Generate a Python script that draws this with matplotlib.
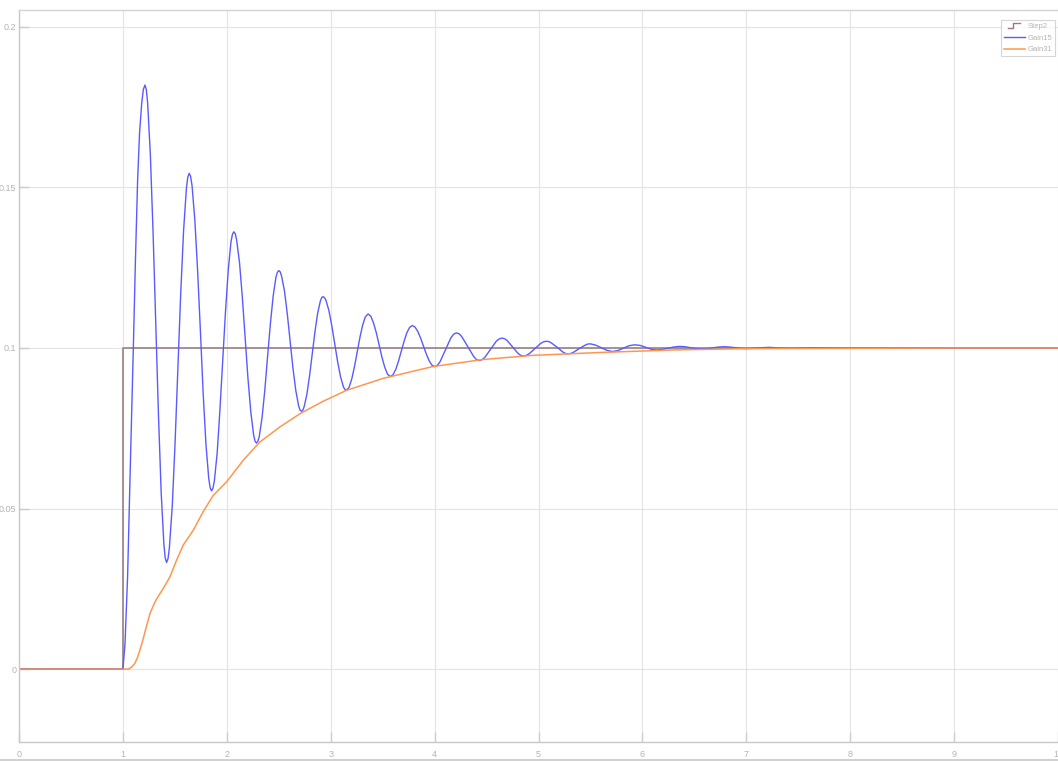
"""
Step response scope: Step2 input vs. the Gain15 and Gain31 loop outputs.
"""

import matplotlib

matplotlib.use("Agg")
import matplotlib.pyplot as plt
from matplotlib.legend_handler import HandlerBase
from matplotlib.lines import Line2D

# --- Step2 (reference input) ---
step_t = [0.0, 1.0, 10.0]
step_v = [0.0, 0.1, 0.1]

# --- Gain15 (underdamped, blue) ---
gain15_t = [
    0.0, 1.0, 1.02, 1.045, 1.07, 1.1, 1.12, 1.141, 1.16, 1.18, 1.196, 1.212,
    1.225, 1.238, 1.264, 1.290, 1.316, 1.342, 1.368, 1.394, 1.407, 1.420,
    1.434, 1.447, 1.475, 1.502, 1.529, 1.556, 1.584, 1.611, 1.624, 1.638,
    1.651, 1.665, 1.692, 1.719, 1.746, 1.772, 1.799, 1.826, 1.840, 1.853,
    1.866, 1.880, 1.907, 1.933, 1.960, 1.987, 2.014, 2.040, 2.054, 2.067,
    2.081, 2.094, 2.122, 2.149, 2.176, 2.203, 2.231, 2.258, 2.271, 2.285,
    2.298, 2.312, 2.339, 2.366, 2.392, 2.419, 2.446, 2.473, 2.487, 2.500,
    2.514, 2.527, 2.555, 2.582, 2.609, 2.636, 2.664, 2.691, 2.704, 2.718,
    2.731, 2.744, 2.770, 2.796, 2.822, 2.848, 2.874, 2.900, 2.913, 2.926,
    2.940, 2.954, 2.982, 3.010, 3.038, 3.066, 3.094, 3.122, 3.136, 3.150,
    3.176, 3.202, 3.228, 3.254, 3.281, 3.307, 3.333, 3.359,
    3.386, 3.413, 3.440, 3.466, 3.493, 3.520, 3.547, 3.574,
    3.600, 3.627, 3.653, 3.680, 3.706, 3.732, 3.759, 3.785,
    3.812, 3.839, 3.866, 3.892, 3.919, 3.946, 3.973, 4.000,
    4.026, 4.052, 4.105, 4.157, 4.183, 4.209,
    4.237, 4.264, 4.320, 4.375, 4.402, 4.430,
    4.457, 4.484, 4.539, 4.593, 4.620, 4.647,
    4.673, 4.699, 4.751, 4.803, 4.829, 4.855,
    4.882, 4.910, 4.965, 5.020, 5.047, 5.074,
    5.100, 5.127, 5.180, 5.232, 5.259, 5.285,
    5.311, 5.338, 5.391, 5.444, 5.470, 5.497,
    5.550, 5.603, 5.657, 5.710,
    5.764, 5.818, 5.871, 5.925,
    5.979, 6.032, 6.086, 6.140,
    6.194, 6.247, 6.301, 6.355,
    6.409, 6.462, 6.516, 6.570,
    6.624, 6.677, 6.731, 6.785,
    6.839, 6.892, 6.946, 7.000,
    7.108, 7.215, 7.320, 7.430, 7.540, 7.645, 7.86, 8.2, 9.0, 10.0,
]
gain15_v = [
    0.0, 0.0, 0.008, 0.029, 0.062, 0.1, 0.127, 0.152, 0.167, 0.176, 0.1805, 0.1819,
    0.1805, 0.1762, 0.1601, 0.1360, 0.1076, 0.0791, 0.0550, 0.0389, 0.0346, 0.0332,
    0.0344, 0.0378, 0.0509, 0.0706, 0.0938, 0.1170, 0.1367, 0.1498, 0.1532, 0.1544,
    0.1535, 0.1506, 0.1399, 0.1239, 0.1050, 0.0860, 0.0700, 0.0593, 0.0564, 0.0555,
    0.0563, 0.0586, 0.0673, 0.0804, 0.0959, 0.1113, 0.1244, 0.1331, 0.1354, 0.1362,
    0.1356, 0.1337, 0.1266, 0.1159, 0.1033, 0.0907, 0.0800, 0.0729, 0.0710, 0.0704,
    0.0709, 0.0724, 0.0783, 0.0870, 0.0973, 0.1075, 0.1162, 0.1221, 0.1236, 0.1241,
    0.1237, 0.1224, 0.1177, 0.1106, 0.1022, 0.0938, 0.0867, 0.0820, 0.0807, 0.0803,
    0.0806, 0.0817, 0.0855, 0.0913, 0.0982, 0.1050, 0.1108, 0.1146, 0.1157, 0.1160,
    0.1157, 0.1149, 0.1117, 0.1070, 0.1014, 0.0958, 0.0911, 0.0879, 0.0871, 0.0868,
    0.0877, 0.0903, 0.0941, 0.0987, 0.1033, 0.1071, 0.1097, 0.1106,
    0.1099, 0.1077, 0.1046, 0.1009, 0.0971, 0.0940, 0.0918, 0.0911,
    0.0917, 0.0934, 0.0960, 0.0991, 0.1021, 0.1047, 0.1064, 0.1070,
    0.1065, 0.1051, 0.1030, 0.1006, 0.0982, 0.0961, 0.0947, 0.0942,
    0.0946, 0.0957, 0.0995, 0.1032, 0.1043, 0.1047,
    0.1044, 0.1034, 0.1004, 0.0974, 0.0964, 0.0961,
    0.0964, 0.0971, 0.0996, 0.1021, 0.1028, 0.1031,
    0.1029, 0.1023, 0.1003, 0.0983, 0.0977, 0.0975,
    0.0977, 0.0982, 0.0998, 0.1014, 0.1019, 0.1021,
    0.1020, 0.1015, 0.1002, 0.0988, 0.0983, 0.0982,
    0.0983, 0.0987, 0.0998, 0.1008, 0.1012, 0.1013,
    0.1009, 0.1001, 0.0993, 0.0989,
    0.0992, 0.09995, 0.1007, 0.1010,
    0.1008, 0.1002, 0.0996, 0.0994,
    0.0996, 0.09995, 0.1003, 0.1005,
    0.1004, 0.1001, 0.0998, 0.0997,
    0.0998, 0.10005, 0.1003, 0.1004,
    0.1003, 0.1001, 0.0999, 0.0998,
    0.1000, 0.1002, 0.1000, 0.0999, 0.1000, 0.1001, 0.1, 0.1, 0.1, 0.1,
]

# --- Gain31 (overdamped, orange) ---
gain31_t = [
    0.0, 1.0, 1.05, 1.08, 1.115, 1.14, 1.163, 1.19, 1.212, 1.26, 1.308, 1.35,
    1.388, 1.452, 1.516, 1.58, 1.676, 1.772, 1.869, 1.997, 2.157, 2.317, 2.51,
    2.702, 2.926, 3.151, 3.5, 3.98, 4.46, 4.94, 5.59, 6.3, 7.0, 8.0, 9.0, 10.0,
]
gain31_v = [
    0.0, 0.0, 0.0, 0.0005, 0.0018, 0.0036, 0.0059, 0.0088, 0.0116, 0.0173,
    0.0209, 0.0232, 0.0251, 0.0287, 0.0339, 0.0386, 0.0432, 0.049, 0.0541,
    0.0583, 0.065, 0.0707, 0.0754, 0.0795, 0.0834, 0.0868, 0.0905, 0.0942,
    0.0964, 0.0977, 0.0986, 0.0994, 0.0998, 0.0999, 0.1, 0.1,
]

x_ticks = list(range(0, 11))
y_ticks = [0, 0.05, 0.1, 0.15, 0.2]
y_tick_labels = ["0", "0.05", "0.1", "0.15", "0.2"]
series_names = ["Step2", "Gain15", "Gain31"]

STEP_COLOR = "#9e8a8a"
BLUE = "#5a5aff"
ORANGE = "#ff9650"
TEXT_GREY = "#b4b4b4"
NARROW = ["Liberation Sans Narrow", "Liberation Sans", "DejaVu Sans"]


class StepIcon(HandlerBase):
    # little step glyph like the scope legend uses
    def create_artists(self, legend, orig_handle, xdescent, ydescent,
                       width, height, fontsize, trans):
        x0, y0 = -xdescent, -ydescent
        xs = [x0 + width * 0.2, x0 + width * 0.45, x0 + width * 0.45, x0 + width * 0.75]
        ys = [y0 - height * 0.05, y0 - height * 0.05, y0 + height * 0.9, y0 + height * 0.9]
        line = Line2D(xs, ys, color="#a07878", linewidth=1.0)
        line.set_transform(trans)
        return [line]


def main() -> None:
    plt.rcParams["font.family"] = NARROW

    fig = plt.figure(figsize=(10.58, 7.61), dpi=100)
    ax = fig.add_axes([0.018, 0.025, 0.982, 0.962])

    step_line, = ax.plot(step_t, step_v, drawstyle="steps-post", color=STEP_COLOR,
                         linewidth=1.3, label=series_names[0])
    ax.plot(gain15_t, gain15_v, color=BLUE, linewidth=1.0, label=series_names[1])
    ax.plot(gain31_t, gain31_v, color=ORANGE, linewidth=1.1, label=series_names[2])

    ax.set_xlim(0, 10)
    ax.set_ylim(-0.0227, 0.2053)
    ax.set_xticks(x_ticks)
    ax.set_yticks(y_ticks)
    ax.set_yticklabels(y_tick_labels)
    ax.tick_params(axis="both", direction="in", length=7, width=1.0, color="#cccccc",
                   labelcolor=TEXT_GREY, labelsize=6.5, pad=2)
    ax.tick_params(axis="x", pad=6)
    ax.grid(True, color="#e4e4e4", linewidth=0.8)
    ax.set_axisbelow(True)

    for side in ("left", "bottom", "top"):
        ax.spines[side].set_color("#c8c8c8")
        ax.spines[side].set_linewidth(1.0)
    ax.spines["top"].set_color("#d4d4d4")
    ax.spines["right"].set_visible(False)

    leg = ax.legend(handler_map={step_line: StepIcon()}, loc="upper right",
                    fontsize=5.5, frameon=True, fancybox=False, handlelength=2.8,
                    handletextpad=0.3, borderpad=0.35, labelspacing=0.55,
                    borderaxespad=0.0, bbox_to_anchor=(0.997, 0.986))
    leg.get_frame().set_edgecolor("#cccccc")
    leg.get_frame().set_linewidth(0.8)
    for txt in leg.get_texts():
        txt.set_color(TEXT_GREY)

    # frame line along the bottom of the window
    fig.add_artist(Line2D([0.0, 1.0], [0.0015, 0.0015], color="#c8c8c8",
                          linewidth=1.2, transform=fig.transFigure))

    fig.savefig("out.png", dpi=100)


if __name__ == "__main__":
    main()
